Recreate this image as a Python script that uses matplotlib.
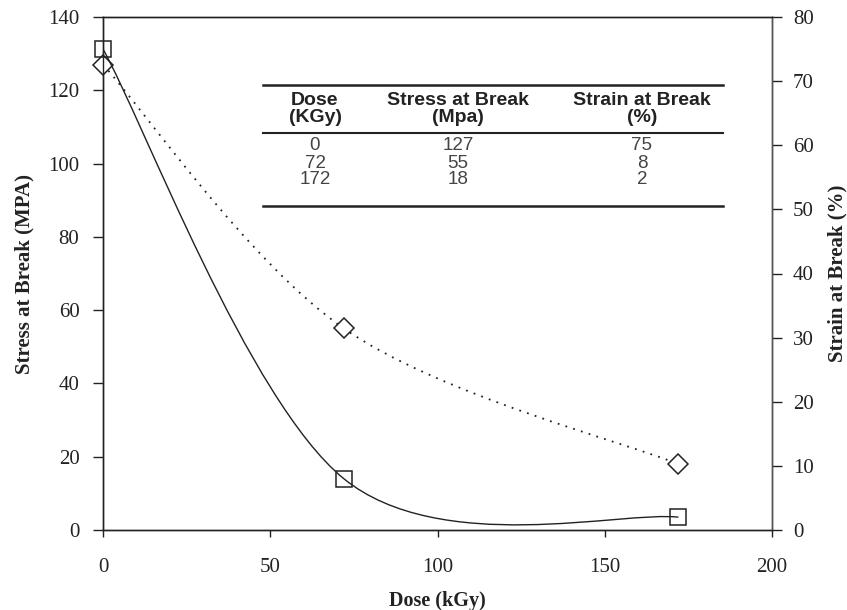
import matplotlib
matplotlib.use("Agg")
import matplotlib.pyplot as plt
from matplotlib.path import Path
from matplotlib.patches import PathPatch
from matplotlib.lines import Line2D
import numpy as np

dose = [0, 72, 172]
stress = [127, 55, 18]
strain = [75, 8, 2]

table_header = ["Dose\n(KGy)", "Stress at Break\n(Mpa)", "Strain at Break\n(%)"]
table_rows = [["0", "127", "75"], ["72", "55", "8"], ["172", "18", "2"]]

W, H = 847, 610
fig = plt.figure(figsize=(W / 100, H / 100), dpi=100)
ax = fig.add_axes([103 / W, 1 - 530 / H, (772 - 103) / W, (530 - 17) / H])
ax2 = ax.twinx()

serif = "Liberation Serif"
sans = "Liberation Sans"
ink = "#222222"


def smooth_path(xs, ys):
    pts = np.column_stack([xs, ys]).astype(float)
    n = len(pts)
    verts = [pts[0]]
    codes = [Path.MOVETO]
    for i in range(n - 1):
        p0 = pts[i - 1] if i > 0 else pts[i]
        p1 = pts[i]
        p2 = pts[i + 1]
        p3 = pts[i + 2] if i + 2 < n else pts[i + 1]
        c1 = p1 + (p2 - p0) / 6.0
        c2 = p2 - (p3 - p1) / 6.0
        verts += [c1, c2, p2]
        codes += [Path.CURVE4] * 3
    return Path(verts, codes)


# Stress (left axis) dotted
ax.add_patch(PathPatch(smooth_path(dose, stress), fill=False, edgecolor=ink,
                       lw=1.3, linestyle=(0, (1, 3.5))))
ax.plot(dose, stress, linestyle="none", marker="D", markersize=10,
        markerfacecolor="white", markeredgecolor=ink, markeredgewidth=1.1,
        clip_on=False, zorder=5)

# Strain (right axis) solid
ax2.add_patch(PathPatch(smooth_path(dose, strain), fill=False, edgecolor=ink, lw=1.0))
ax2.plot(dose, strain, linestyle="none", marker="s", markersize=12,
         markerfacecolor="none", markeredgecolor=ink, markeredgewidth=1.1,
         clip_on=False, zorder=5)

ax.set_xlim(0, 200)
ax.set_ylim(0, 140)
ax2.set_ylim(0, 80)
ax.set_xticks([0, 50, 100, 150, 200])
ax.set_yticks(np.arange(0, 141, 20))
ax2.set_yticks(np.arange(0, 81, 10))

for a in (ax, ax2):
    for s in a.spines.values():
        s.set_color(ink)
        s.set_linewidth(1.0)
ax2.spines["right"].set_color("#555555")

ax.tick_params(axis="y", direction="out", length=7, width=1, colors=ink,
               labelsize=15, pad=10)
ax.tick_params(axis="x", direction="out", length=5, width=1, colors=ink,
               labelsize=15, pad=15)
ax2.tick_params(axis="y", direction="out", length=7, width=1, colors=ink,
                labelsize=15, pad=8)
for lab in ax.get_xticklabels() + ax.get_yticklabels() + ax2.get_yticklabels():
    lab.set_fontfamily(serif)
    lab.set_color(ink)

ax.set_xlabel("Dose (kGy)", fontfamily=serif, fontweight="bold", fontsize=14.5,
              color=ink, labelpad=10)
ax.set_ylabel("Stress at Break (MPA)", fontfamily=serif, fontweight="bold",
              fontsize=15, color=ink, labelpad=10)
ax2.set_ylabel("Strain at Break (%)", fontfamily=serif, fontweight="bold",
               fontsize=15, color=ink, labelpad=10)


# Table drawn in figure pixel coordinates
def fx(px):
    return px / W


def fy(py):
    return 1 - py / H


x0, x1 = 263, 723
for ypx, lw in [(85, 1.8), (133, 1.5), (206, 1.8)]:
    fig.add_artist(Line2D([fx(x0), fx(x1)], [fy(ypx), fy(ypx)], color=ink, lw=lw))

col_x = [315, 458, 642]
for cx, txt in zip(col_x, table_header):
    fig.text(fx(cx), fy(109), txt, ha="center", va="center", fontfamily=sans,
             fontweight="bold", fontsize=14, color=ink, linespacing=0.95)

row_y = [146, 163, 180]
for ry, row in zip(row_y, table_rows):
    for cx, txt in zip(col_x, row):
        fig.text(fx(cx), fy(ry), txt, ha="center", va="center", fontfamily=sans,
                 fontsize=13.5, color="#444444")

fig.savefig("out.png", dpi=100)
